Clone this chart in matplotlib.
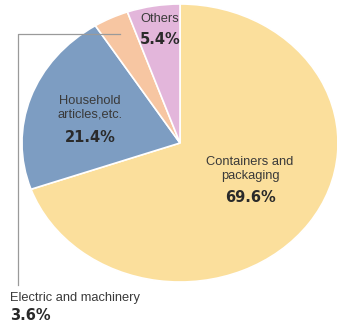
import matplotlib
matplotlib.use('Agg')
from matplotlib import pyplot as plt

# share of plastic use
labels = ['Containers and\npackaging', 'Household\narticles,etc.', 'Electric and machinery', 'Others']
shares = [69.6, 21.4, 3.6, 5.4]
colors = ['#FBDF9C', '#7D9DC2', '#F7C6A2', '#E3B6DB']

W, H = 337, 325
fig = plt.figure(figsize=(W / 100, H / 100), dpi=100)

# pie is drawn stretched (wider than tall), as in the original print
ax = fig.add_axes([22 / W, (H - 282) / H, 316 / W, 278 / H])
ax.pie(shares, colors=colors, startangle=90, counterclock=False,
       wedgeprops=dict(edgecolor='white', linewidth=1.2))
ax.set_aspect('auto')
ax.set_xlim(-1, 1)
ax.set_ylim(-1, 1)
ax.axis('off')

# overlay in pixel coords for labels and leader line
ov = fig.add_axes([0, 0, 1, 1])
ov.set_xlim(0, W)
ov.set_ylim(H, 0)
ov.axis('off')
ov.patch.set_alpha(0)

ov.plot([120, 18, 18], [34, 34, 285], color='#9a9a9a', lw=0.9)

txt = dict(family='Liberation Sans', fontsize=9.3, color='#3a3a3a', linespacing=1.15)
num = dict(family='DejaVu Sans', fontsize=10.5, fontweight='bold', color='#2a2a2a')

ov.text(90, 108, labels[1], ha='center', va='center', **txt)
ov.text(90, 137, f'{shares[1]}%', ha='center', va='center', **num)

ov.text(160, 19, labels[3], ha='center', va='center', **txt)
ov.text(160, 39, f'{shares[3]}%', ha='center', va='center', **num)

ov.text(250, 169, labels[0], ha='center', va='center', **txt)
ov.text(251, 198, f'{shares[0]}%', ha='center', va='center', **num)

ov.text(10, 298, labels[2], ha='left', va='center', **txt)
ov.text(10, 315, f'{shares[2]}%', ha='left', va='center', **num)

fig.savefig('out.png', dpi=100)
